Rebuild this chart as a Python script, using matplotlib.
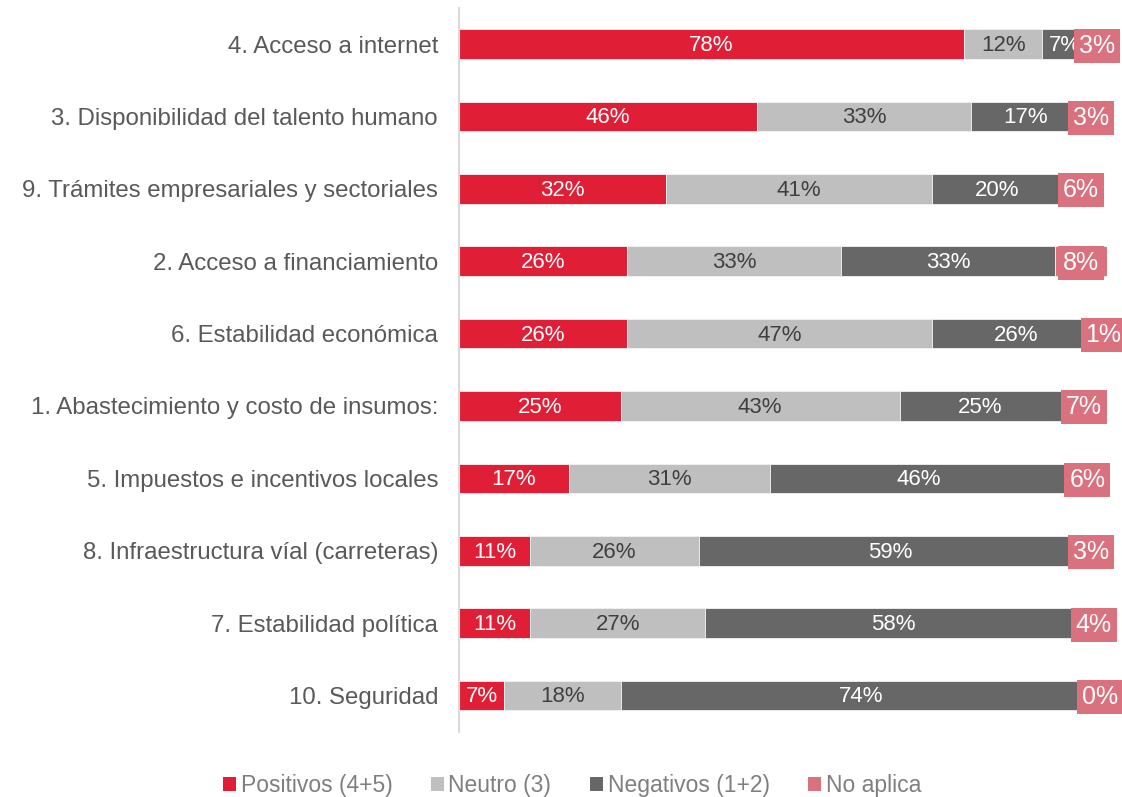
import matplotlib
matplotlib.use('Agg')
import matplotlib.pyplot as plt
from matplotlib.patches import Patch

plt.rcParams['font.family'] = ['Liberation Sans', 'DejaVu Sans']

# data (top to bottom as in the chart)
categories = ['4. Acceso a internet', '3. Disponibilidad del talento humano',
              '9. Trámites empresariales y sectoriales', '2. Acceso a financiamiento',
              '6. Estabilidad económica', '1. Abastecimiento y costo de insumos:',
              '5. Impuestos e incentivos locales', '8. Infraestructura víal (carreteras)',
              '7. Estabilidad política', '10. Seguridad']
positivos = [78, 46, 32, 26, 26, 25, 17, 11, 11, 7]
neutro    = [12, 33, 41, 33, 47, 43, 31, 26, 27, 18]
negativos = [7, 17, 20, 33, 26, 25, 46, 59, 58, 74]
no_aplica = [3, 3, 6, 8, 1, 7, 6, 3, 4, 0]
series_names = ['Positivos (4+5)', 'Neutro (3)', 'Negativos (1+2)', 'No aplica']

C = {'pos': '#E01E35', 'neu': '#BFBFBF', 'neg': '#676767', 'na': '#DA717E'}
colors = [C['pos'], C['neu'], C['neg'], C['na']]
txt_colors = ['white', '#404040', 'white', 'white']

fig = plt.figure(figsize=(11.22, 7.97), dpi=100)
ax = fig.add_axes([0.409, 0.082, 0.5775, 0.908])

y = list(range(len(categories)))
left = [0] * len(categories)
for k, vals in enumerate([positivos, neutro, negativos, no_aplica]):
    ax.barh(y, vals, left=left, height=0.41, color=colors[k],
            edgecolor='#F2F2F2', linewidth=0.6, zorder=2)
    for i, v in enumerate(vals):
        xc = left[i] + v / 2
        if k < 3:
            ax.text(xc, i + 0.02, f'{v}%', ha='center', va='center', fontsize=16,
                    color=txt_colors[k], zorder=3)
        else:
            ax.text(xc, i + 0.02, f'{v}%', ha='center', va='center', fontsize=18,
                    color='white', zorder=4, clip_on=False,
                    bbox=dict(boxstyle='square,pad=0.2', facecolor=C['na'],
                              edgecolor='none'))
    left = [a + b for a, b in zip(left, vals)]

ax.set_xlim(0, 100)
ax.set_ylim(len(categories) - 0.5, -0.5)
ax.set_yticks(y)
ax.set_yticklabels(categories, fontsize=17.3, color='#595959')
ax.tick_params(axis='y', length=0, pad=15)
ax.set_xticks([])
for s in ['top', 'right', 'bottom']:
    ax.spines[s].set_visible(False)
ax.spines['left'].set_color('#D9D9D9')
ax.spines['left'].set_linewidth(1.5)

handles = [Patch(facecolor=c, edgecolor='none') for c in colors]
leg = fig.legend(handles, series_names, loc='lower center', ncol=4, frameon=False,
                 bbox_to_anchor=(0.51, -0.026), fontsize=16.5, handlelength=0.55,
                 handleheight=0.6, handletextpad=0.2, columnspacing=1.7,
                 labelcolor='#7F7F7F')
for t in leg.get_texts():
    t.set_fontstretch('condensed')

fig.savefig('out.png', dpi=100, facecolor='white')
